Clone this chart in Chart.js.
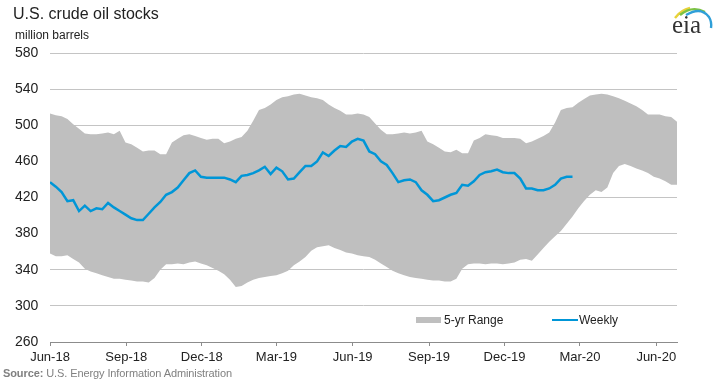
<!DOCTYPE html>
<html><head><meta charset="utf-8">
<script src="https://cdn.jsdelivr.net/npm/chart.js@4/dist/chart.umd.min.js"></script>
<style>
html,body{margin:0;padding:0;background:#fff;}
#wrap{position:relative;width:719px;height:384px;overflow:hidden;font-family:"Liberation Sans",Arial,sans-serif;}
canvas{position:absolute;left:0;top:0;}
.t{position:absolute;white-space:nowrap;line-height:1;}
</style></head><body>
<div id="wrap">
<canvas id="c" width="719" height="384"></canvas>
<div class="t" style="left:13px;top:6px;font-size:16px;color:#222;">U.S. crude oil stocks</div>
<div class="t" style="left:15px;top:29px;font-size:12px;color:#222;">million barrels</div>
<div class="t" style="left:416px;top:317px;width:25px;height:6px;background:#bfbfbf;"></div>
<div class="t" style="left:444px;top:314px;font-size:12px;color:#222;">5-yr Range</div>
<div class="t" style="left:552px;top:319px;width:26px;height:2px;background:#0096d7;"></div>
<div class="t" style="left:579px;top:314px;font-size:12px;color:#222;">Weekly</div>
<div class="t" style="left:3px;top:368px;font-size:11px;color:#808080;letter-spacing:-0.1px;"><b>Source:</b> U.S. Energy Information Administration</div>
<svg class="t" style="left:668px;top:1px;" width="50" height="40" viewBox="0 0 50 40">
  <path d="M7 17 Q13 9 22 7" stroke="#e8d23a" stroke-width="2.4" fill="none"/>
  <path d="M12 14 Q24 4 37 11" stroke="#7cc242" stroke-width="2.4" fill="none"/>
  <path d="M18 14 Q33 5 41 16 Q44 21 43 27" stroke="#2f9fd8" stroke-width="2.4" fill="none"/>
  <text x="4" y="32" font-family="Liberation Serif, serif" font-size="25" fill="#333">eia</text>
</svg>
</div>
<script>
// ---- data (million barrels), weekly from 2018-06-01 ----
const startDate = new Date(2018, 5, 1);
const tickLabels = ["Jun-18","Sep-18","Dec-18","Mar-19","Jun-19","Sep-19","Dec-19","Mar-20","Jun-20"];
const weeklyStocks = [
 437,432,426,416,417,405,411,405,408,407,414,409,405,401,397,395,395,402,409,415,
 423,426,431,439,447,450,443,442,442,442,442,440,437,444,445,447,450,454,446,453,
 449,440,441,448,455,455,460,470,466,472,477,476,482,485,483,471,468,460,456,447,
 437,439,440,437,428,423,416,417,420,423,425,434,433,438,445,448,449,451,448,447,
 447,441,430,430,428,428,430,434,441,443,443
];
const rangeHigh = [
 513,511,510,507,501,496,491,490,490,491,492,490,494,481,479,475,471,472,472,468,
 468,481,485,489,490,488,486,484,485,485,480,482,485,487,494,505,517,519,523,528,
 531,532,534,535,533,531,530,528,523,519,516,512,512,513,512,509,502,495,490,490,
 491,492,491,492,494,482,479,475,471,470,473,469,469,483,486,490,489,488,486,486,
 486,485,480,482,485,488,492,503,517,519,520,525,529,533,534,535,534,532,530,527,
 524,521,517,512,512,512,510,509,504
];
const rangeLow = [
 358,355,355,356,352,348,341,338,336,334,332,330,330,329,328,327,327,326,331,340,
 346,346,347,346,348,349,347,345,342,339,335,329,321,322,326,329,331,332,333,334,
 336,339,345,349,354,361,365,366,367,364,362,359,358,356,355,354,351,347,343,339,
 336,334,332,331,330,329,328,328,327,327,330,341,346,347,347,346,347,347,346,347,
 348,351,352,350,357,364,371,377,383,391,399,408,416,423,428,426,431,447,455,457,
 455,452,450,447,443,441,438,434,434
];
// ------------------------------------------------
const DAY = 86400000;
const weekDay = i => i * 7;
const toXY = arr => arr.map((v, i) => ({x: weekDay(i), y: v}));
const tickDays = tickLabels.map(l => {
  const [m, y] = l.split('-');
  const mi = ["Jan","Feb","Mar","Apr","May","Jun","Jul","Aug","Sep","Oct","Nov","Dec"].indexOf(m);
  return Math.round((new Date(2000 + +y, mi, 1) - startDate) / DAY);
});
const FONT = "'Liberation Sans', Arial, sans-serif";

new Chart(document.getElementById('c'), {
  type: 'line',
  data: {
    datasets: [
      {label: 'Weekly', data: toXY(weeklyStocks), borderColor: '#0096d7', borderWidth: 2.5,
       pointRadius: 0, fill: false, tension: 0, order: 0},
      {label: '5-yr Range', data: toXY(rangeHigh), borderWidth: 0, borderColor: 'rgba(0,0,0,0)',
       backgroundColor: '#bfbfbf', pointRadius: 0, fill: '+1', tension: 0, order: 1},
      {label: 'low', data: toXY(rangeLow), borderWidth: 0, borderColor: 'rgba(0,0,0,0)',
       pointRadius: 0, fill: false, tension: 0, order: 2}
    ]
  },
  options: {
    responsive: false, animation: false, devicePixelRatio: 1,
    layout: {padding: {left: 15, right: 42, top: 53, bottom: 16}},
    plugins: {legend: {display: false}, tooltip: {enabled: false}},
    scales: {
      x: {
        type: 'linear', min: 0, max: weekDay(rangeHigh.length - 1),
        afterBuildTicks: s => { s.ticks = tickDays.map(v => ({value: v})); },
        afterFit: s => { s.height = 26; },
        ticks: {autoSkip: false, maxRotation: 0, padding: 4, color: '#222',
          font: {family: FONT, size: 13},
          callback: v => tickLabels[tickDays.indexOf(v)]},
        grid: {drawOnChartArea: false, drawTicks: true, tickLength: 4, color: '#8c8c8c'},
        border: {display: true, color: '#8c8c8c'}
      },
      y: {
        min: 260, max: 580,
        afterFit: s => { s.width = 35; },
        ticks: {stepSize: 40, crossAlign: 'far', padding: 0, color: '#222',
          font: {family: FONT, size: 14}},
        grid: {color: '#c4c4c4', drawTicks: false},
        border: {display: false}
      }
    }
  }
});
</script>
</body></html>
